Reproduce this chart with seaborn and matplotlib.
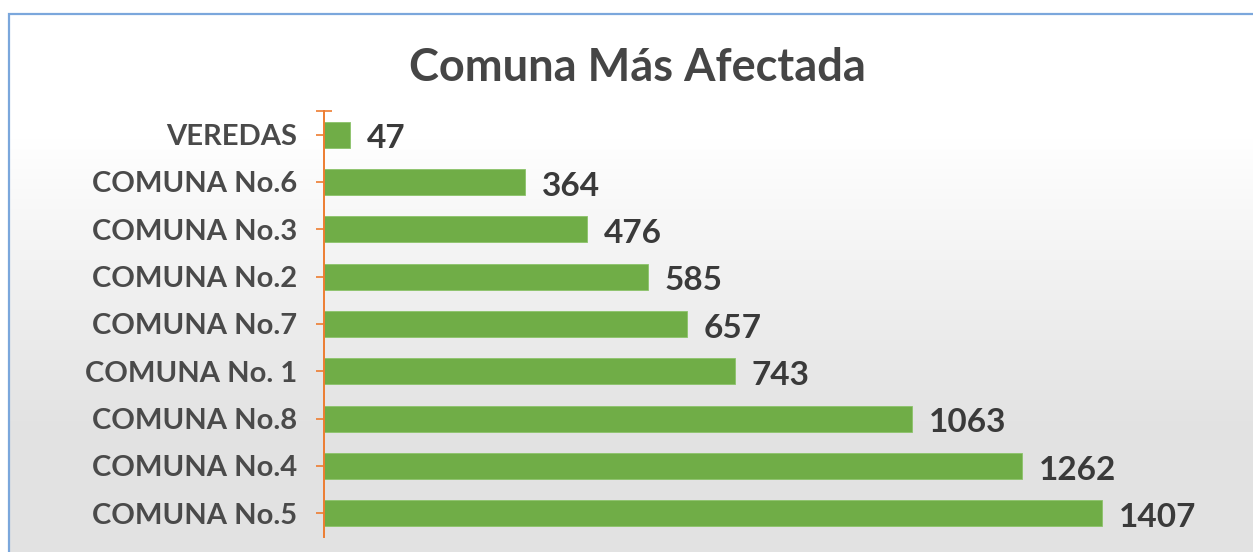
import numpy as np
import pandas as pd
import matplotlib
matplotlib.use("Agg")
import matplotlib.pyplot as plt
import seaborn as sns
from matplotlib.patches import Rectangle

categorias = ["VEREDAS", "COMUNA No.6", "COMUNA No.3", "COMUNA No.2", "COMUNA No.7",
              "COMUNA No. 1", "COMUNA No.8", "COMUNA No.4", "COMUNA No.5"]
casos = [47, 364, 476, 585, 657, 743, 1063, 1262, 1407]
titulo = "Comuna Más Afectada"

df = pd.DataFrame({"comuna": categorias, "casos": casos})

sns.set_theme(style="white")
plt.rcParams["font.family"] = ["Lato", "DejaVu Sans"]

W, H = 1253, 552
fig = plt.figure(figsize=(W / 100, H / 100), dpi=100)
fig.patch.set_facecolor("white")

# chart-area frame with vertical white-to-gray gradient
bg = fig.add_axes([9 / W, -0.05, 1.05, 1 - 14 / H + 0.05], zorder=0)
t = np.linspace(0, 1, 256)
shade = np.clip((t - 0.22) / 0.5, 0, 1)
vals = 1.0 - 0.11 * shade
img = np.dstack([vals, vals, vals]).reshape(256, 1, 3)
bg.imshow(img, aspect="auto", extent=[0, 1, 1, 0], interpolation="bilinear")
bg.set_xlim(0, 1)
bg.set_ylim(1, 0)
bg.axis("off")
fig.add_artist(Rectangle((9 / W, -0.1), 1.2, 1 - 14 / H + 0.1, transform=fig.transFigure,
                         fill=False, edgecolor="#7ba7dc", linewidth=1.6, zorder=1))

ax = fig.add_axes([324 / W, 1 - 537 / H, (1235 - 324) / W, (537 - 111) / H], zorder=2)
ax.patch.set_alpha(0)

sns.barplot(data=df, x="casos", y="comuna", orient="h", color="#70ad47",
            width=0.55, saturation=1, ax=ax, edgecolor="#8cc36a", linewidth=0.6)

ax.set_xlim(0, (1235 - 324) / 0.553)
ax.set_ylim(8.5, -0.5)
ax.set_xlabel("")
ax.set_ylabel("")
ax.set_xticks([])
for s in ["top", "right", "bottom"]:
    ax.spines[s].set_visible(False)
ax.spines["left"].set_color("#ED7D31")
ax.spines["left"].set_linewidth(1.4)

ax.tick_params(axis="y", which="both", direction="inout", length=12, width=1.2,
               color="#ED7D31", left=True, pad=13)
ax.set_yticks([-0.5], minor=True)
for lab in ax.get_yticklabels():
    lab.set_fontsize(21)
    lab.set_fontweight("bold")
    lab.set_color("#4a4a4a")

for cont in ax.containers:
    anns = ax.bar_label(cont, labels=[str(v) for v in casos], padding=12,
                        fontsize=24, fontweight="bold", color="#3a3a3a")
    for a in anns:
        a.xyann = (12, -3)

fig.text(637 / W, 1 - 68 / H, titulo, ha="center", va="center",
         fontsize=32.5, fontweight="bold", color="#454545")

fig.savefig("out.png", dpi=100)
